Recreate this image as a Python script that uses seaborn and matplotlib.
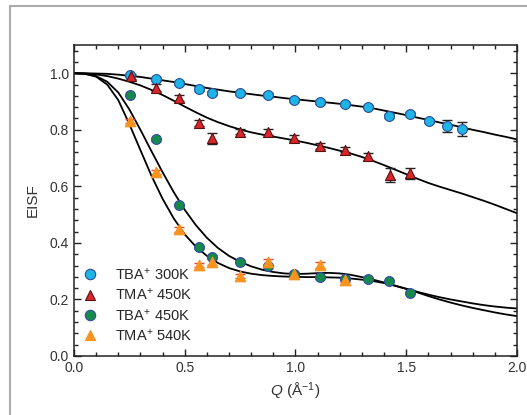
import numpy as np
import pandas as pd
import seaborn as sns
import matplotlib.pyplot as plt
from matplotlib.lines import Line2D
from matplotlib.ticker import MultipleLocator, AutoMinorLocator

# measured EISF points
q_tba300 = [0.253, 0.369, 0.474, 0.563, 0.623, 0.749, 0.874, 0.993, 1.111, 1.222,
            1.326, 1.424, 1.518, 1.604, 1.682, 1.753]
eisf_tba300 = [0.993, 0.979, 0.966, 0.945, 0.930, 0.930, 0.923, 0.906, 0.899, 0.891,
               0.882, 0.849, 0.856, 0.831, 0.813, 0.803]
err_tba300 = [0.006, 0.006, 0.006, 0.006, 0.006, 0.006, 0.006, 0.006, 0.006, 0.006,
              0.006, 0.006, 0.006, 0.008, 0.02, 0.025]

q_tma450 = [0.256, 0.369, 0.476, 0.563, 0.623, 0.749, 0.874, 0.993, 1.111, 1.222,
            1.326, 1.427, 1.518]
eisf_tma450 = [0.989, 0.949, 0.913, 0.825, 0.770, 0.794, 0.792, 0.771, 0.743, 0.730,
               0.706, 0.640, 0.646]
err_tma450 = [0.008, 0.012, 0.01, 0.01, 0.02, 0.01, 0.012, 0.01, 0.01, 0.01,
              0.012, 0.025, 0.02]

q_tba450 = [0.253, 0.369, 0.474, 0.563, 0.623, 0.749, 0.874, 0.993, 1.111, 1.222,
            1.326, 1.424, 1.518]
eisf_tba450 = [0.923, 0.767, 0.534, 0.385, 0.351, 0.333, 0.317, 0.291, 0.278, 0.273,
               0.273, 0.265, 0.223]
err_tba450 = [0.005] * 13

q_tma540 = [0.253, 0.369, 0.474, 0.563, 0.623, 0.749, 0.874, 0.993, 1.111, 1.222]
eisf_tma540 = [0.831, 0.651, 0.448, 0.322, 0.332, 0.283, 0.332, 0.290, 0.322, 0.269]
err_tma540 = [0.008, 0.008, 0.008, 0.008, 0.01, 0.006, 0.01, 0.006, 0.01, 0.006]

# fitted model curves, every 0.05 in Q
q_fit = [0.0, 0.05, 0.1, 0.15, 0.2, 0.25, 0.3, 0.35, 0.4, 0.45,
         0.5, 0.55, 0.6, 0.65, 0.7, 0.75, 0.8, 0.85, 0.9, 0.95,
         1.0, 1.05, 1.1, 1.15, 1.2, 1.25, 1.3, 1.35, 1.4, 1.45,
         1.5, 1.55, 1.6, 1.65, 1.7, 1.75, 1.8, 1.85, 1.9, 1.95, 2.0]
fit_tba300 = [1.0, 1.0, 0.999, 0.998, 0.995, 0.991, 0.987, 0.981, 0.975, 0.969,
              0.962, 0.955, 0.948, 0.942, 0.936, 0.931, 0.926, 0.921, 0.917, 0.912,
              0.908, 0.904, 0.9, 0.896, 0.892, 0.887, 0.882, 0.876, 0.868, 0.86,
              0.852, 0.843, 0.835, 0.826, 0.818, 0.809, 0.8, 0.792, 0.783, 0.775, 0.766]
fit_tma450 = [1.0, 0.999, 0.996, 0.99, 0.981, 0.97, 0.957, 0.941, 0.923, 0.903,
              0.882, 0.862, 0.843, 0.827, 0.813, 0.801, 0.791, 0.783, 0.776, 0.769,
              0.762, 0.754, 0.745, 0.736, 0.726, 0.716, 0.704, 0.69, 0.675, 0.659,
              0.643, 0.627, 0.612, 0.599, 0.587, 0.575, 0.562, 0.549, 0.535, 0.52, 0.505]
fit_tba450 = [1.0, 0.998, 0.99, 0.97, 0.932, 0.872, 0.8, 0.724, 0.65, 0.58,
              0.517, 0.463, 0.418, 0.382, 0.354, 0.333, 0.317, 0.305, 0.297, 0.292,
              0.29, 0.291, 0.293, 0.294, 0.292, 0.287, 0.279, 0.27, 0.26, 0.249,
              0.238, 0.227, 0.217, 0.208, 0.2, 0.193, 0.186, 0.18, 0.175, 0.171, 0.168]
fit_tma540 = [1.0, 0.998, 0.988, 0.96, 0.905, 0.82, 0.728, 0.637, 0.556, 0.487,
              0.43, 0.387, 0.354, 0.329, 0.311, 0.299, 0.291, 0.286, 0.283, 0.281,
              0.28, 0.279, 0.279, 0.278, 0.277, 0.274, 0.27, 0.265, 0.258, 0.248,
              0.237, 0.225, 0.212, 0.2, 0.189, 0.179, 0.17, 0.162, 0.154, 0.147, 0.141]

labels = ['TBA$^{+}$ 300K', 'TMA$^{+}$ 450K', 'TBA$^{+}$ 450K', 'TMA$^{+}$ 540K']

sns.set_style('ticks')
plt.rcParams['font.family'] = ['Liberation Sans', 'DejaVu Sans']
plt.rcParams['mathtext.fontset'] = 'custom'
plt.rcParams['mathtext.rm'] = 'Liberation Sans'
plt.rcParams['mathtext.it'] = 'Liberation Sans:italic'

fig = plt.figure(figsize=(5.27, 4.15), dpi=100)
ax = fig.add_axes([0.1404, 0.1422, 0.8406, 0.7494])

fits = pd.DataFrame({'Q': q_fit, 'a': fit_tba300, 'b': fit_tma450,
                     'c': fit_tba450, 'd': fit_tma540})
for col in ['a', 'b', 'c', 'd']:
    sns.lineplot(data=fits, x='Q', y=col, ax=ax, color='black', linewidth=1.3,
                 zorder=2)

series = [
    (q_tba300, eisf_tba300, err_tba300, 'o', '#1fb4e6', '#2a4f9a', '#222222', 50),
    (q_tma450, eisf_tma450, err_tma450, '^', '#d9262a', '#5a1010', '#222222', 52),
    (q_tba450, eisf_tba450, err_tba450, 'o', '#168a4a', '#3548a8', '#3548a8', 50),
    (q_tma540, eisf_tma540, err_tma540, '^', '#f7931e', '#f7931e', '#e0443a', 58),
]
handles = []
for (q, e, err, m, fc, ec, bc, s), lab in zip(series, labels):
    ax.errorbar(q, e, yerr=err, fmt='none', ecolor=bc, elinewidth=1.0,
                capsize=3.5, capthick=1.0, zorder=3)
    sns.scatterplot(x=q, y=e, ax=ax, marker=m, color=fc, edgecolor=ec,
                    linewidth=0.8, s=s, zorder=4)
    handles.append(Line2D([], [], linestyle='none', marker=m, markersize=7.5,
                          markerfacecolor=fc, markeredgecolor=ec,
                          markeredgewidth=0.8, label=lab))

ax.legend(handles=handles, loc='lower left', bbox_to_anchor=(0.0, 0.012),
          frameon=False, fontsize=10.5, handlelength=1.0, handletextpad=1.2,
          labelspacing=0.3, borderaxespad=0.2)

ax.set_xlim(0, 2.0)
ax.set_ylim(0, 1.1)
ax.xaxis.set_major_locator(MultipleLocator(0.5))
ax.xaxis.set_minor_locator(AutoMinorLocator(5))
ax.yaxis.set_major_locator(MultipleLocator(0.2))
ax.yaxis.set_minor_locator(AutoMinorLocator(5))
ax.tick_params(which='both', direction='in', top=True, right=True,
               labelsize=10, width=1.0, colors='#222222', labelcolor='#333333')
ax.tick_params(which='major', length=5)
ax.tick_params(which='minor', length=3)
for sp in ax.spines.values():
    sp.set_linewidth(1.1)
    sp.set_color('#222222')

ax.set_xlabel('$Q$ (Å$^{-1}$)', fontsize=11, color='#333333', labelpad=4)
ax.set_ylabel('EISF', fontsize=11, color='#333333', labelpad=7)

# gray panel frame on the left and top
fig.add_artist(Line2D([9.5 / 527, 9.5 / 527], [0, 1 - 6 / 415], color='#aaaaaa',
                      linewidth=1.5, transform=fig.transFigure))
fig.add_artist(Line2D([9.5 / 527, 1], [1 - 6 / 415, 1 - 6 / 415], color='#aaaaaa',
                      linewidth=1.5, transform=fig.transFigure))

fig.savefig('out.png', dpi=100)
